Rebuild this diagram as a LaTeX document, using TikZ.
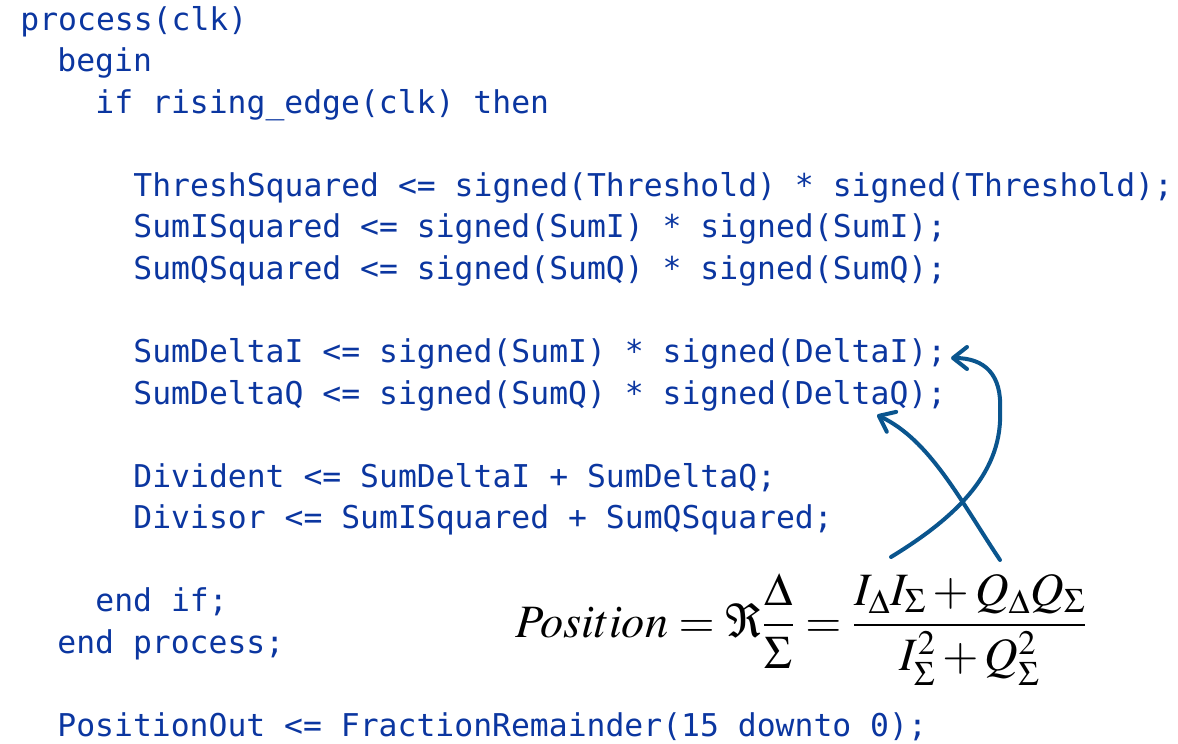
\documentclass[tikz,border=0pt]{standalone}
\usepackage{mathptmx}
\usepackage[no-math]{fontspec}
\setmonofont{DejaVu Sans Mono}
\usetikzlibrary{arrows.meta}
\definecolor{codeblue}{HTML}{0B36A0}
\definecolor{penblue}{HTML}{0A558E}

\begin{document}
\begin{tikzpicture}[
x=0.5pt,
y=-0.5pt,
code/.style={
anchor=base west,
inner sep=0pt,
text=codeblue,
font=\ttfamily\fontsize{15.7}{19}\selectfont
},
pen/.style={
-{Straight Barb[length=7pt,width=11pt,round]},
line width=2pt,
line cap=round,
draw=penblue
}
]
\useasboundingbox (0,0) rectangle (1178,744);

% VHDL process
\node[code] (process) at (20,30) {process(clk)};
\node[code] (begin) at (57,71.5) {begin};
\node[code] (if-rising) at (95,113.1) {if rising\_edge(clk) then};
\node[code] (thresh-squared) at (133,196.2) {ThreshSquared <= signed(Threshold) * signed(Threshold);};
\node[code] (sum-i-squared) at (133,237.8) {SumISquared <= signed(SumI) * signed(SumI);};
\node[code] (sum-q-squared) at (133,279.3) {SumQSquared <= signed(SumQ) * signed(SumQ);};
\node[code] (sum-delta-i) at (133,362.4) {SumDeltaI <= signed(SumI) * signed(DeltaI);};
\node[code] (sum-delta-q) at (133,404) {SumDeltaQ <= signed(SumQ) * signed(DeltaQ);};
\node[code] (divident) at (133,487) {Divident <= SumDeltaI + SumDeltaQ;};
\node[code] (divisor) at (133,528.6) {Divisor <= SumISquared + SumQSquared;};
\node[code] (end-if) at (95,611.7) {end if;};
\node[code] (end-process) at (57,653.3) {end process;};
\node[code] (position-out) at (57,736.4) {PositionOut <= FractionRemainder(15 downto 0);};

% Formula
\node[anchor=base west, inner sep=0pt, font=\fontsize{23.2}{27}\selectfont] (formula) at (515,637)
{$\displaystyle Position = \Re\frac{\Delta}{\Sigma} = \frac{I_\Delta I_\Sigma + Q_\Delta Q_\Sigma}{I_\Sigma^2 + Q_\Sigma^2}$};

% Pen arrows
\coordinate (tail-a) at (891,557);
\coordinate (tail-b) at (1000,560);
\coordinate (tip-a) at (951,358);
\coordinate (tip-b) at (877,415);
\draw[pen] (tail-a) .. controls (960,515) and (1003,470) .. (1000,410)
  .. controls (1002,375) and (985,358) .. (tip-a);
\draw[pen] (tail-b) .. controls (960,500) and (930,440) .. (tip-b);
\end{tikzpicture}
\end{document}
